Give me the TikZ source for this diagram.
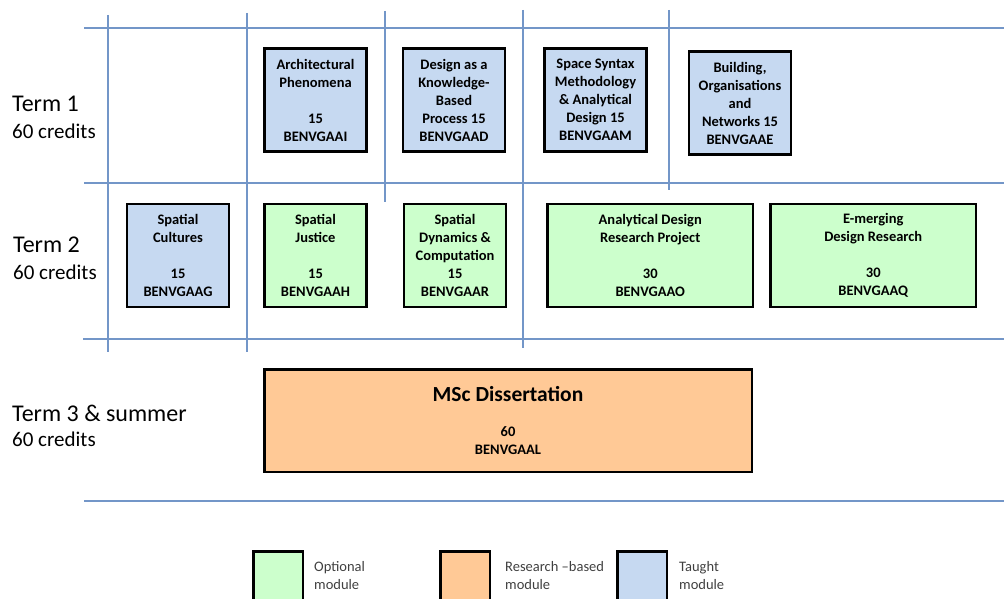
\documentclass[tikz,border=0pt]{standalone}
\usepackage{fontspec}
\setmainfont{Carlito}
\usetikzlibrary{positioning}
\definecolor{taughtblue}{HTML}{C6D9F1}
\definecolor{optgreen}{HTML}{CCFFCC}
\definecolor{resorange}{HTML}{FFC996}
\definecolor{gridblue}{HTML}{7396C8}
\tikzstyle{gridline} = [gridblue, line width=1.5pt]
\tikzstyle{module} = [draw=black, line width=2.5pt, align=center, inner sep=1pt, font=\bfseries\fontsize{14.5}{18}\selectfont]
\tikzstyle{taughtbox} = [module, fill=taughtblue, minimum width=102pt, minimum height=103pt]
\tikzstyle{optbox} = [module, fill=optgreen, minimum width=102pt, minimum height=103pt]
\tikzstyle{resbox} = [module, fill=resorange]
\tikzstyle{termtext} = [anchor=west, inner sep=0pt, font=\fontsize{24}{28}\selectfont]
\tikzstyle{credtext} = [anchor=west, inner sep=0pt, font=\fontsize{21}{25}\selectfont]
\tikzstyle{legtext} = [anchor=west, align=left, inner sep=0pt, font=\fontsize{14.5}{18}\selectfont, text=black!75]

\begin{document}
\begin{tikzpicture}[x=1pt, y=-1pt]
    \clip (0,0) rectangle (1004,599);

    % Grid
    \draw[gridline] (84,28) -- (1004,28);
    \draw[gridline] (84,183) -- (1004,183);
    \draw[gridline] (83,339) -- (1004,339);
    \draw[gridline] (84,501) -- (1004,501);
    \draw[gridline] (108,15) -- (108,352);
    \draw[gridline] (247,13) -- (247,352);
    \draw[gridline] (385,11) -- (385,202);
    \draw[gridline] (523,10) -- (523,348);
    \draw[gridline] (669,10) -- (669,190);

    % Terms
    \node[termtext] (term1) at (12,104) {Term 1};
    \node[credtext] (cred1) at (12,131) {60 credits};
    \node[termtext] (term2) at (13,245) {Term 2};
    \node[credtext] (cred2) at (13,272) {60 credits};
    \node[termtext] (term3) at (12,413) {Term 3 \& summer};
    \node[credtext] (cred3) at (12,439) {60 credits};

    % Term 1 modules
    \node[taughtbox] (arch) at (315.5,100) {Architectural\\Phenomena\\[18pt]15\\BENVGAAI};
    \node[taughtbox, right=34pt of arch] (design) {Design as a\\Knowledge-\\Based\\Process 15\\BENVGAAD};
    \node[taughtbox, right=37pt of design] (syntax) {Space Syntax\\Methodology\\\& Analytical\\Design 15\\BENVGAAM};
    \node[taughtbox, right=40pt of syntax, yshift=-3pt] (networks) {Building,\\Organisations\\and\\Networks 15\\BENVGAAE};

    % Term 2 modules
    \node[taughtbox] (cultures) at (178,255.5) {Spatial\\Cultures\\[18pt]15\\BENVGAAG};
    \node[optbox, right=33pt of cultures] (justice) {Spatial\\Justice\\[18pt]15\\BENVGAAH};
    \node[optbox, right=35pt of justice] (dynamics) {Spatial\\Dynamics \&\\Computation\\15\\BENVGAAR};
    \node[optbox, right=39pt of dynamics, minimum width=205.5pt] (project) {Analytical Design\\Research Project\\[18pt]30\\BENVGAAO};
    \node[optbox, right=15pt of project, minimum width=205.5pt] (emerging) {E-merging\\Design Research\\[18pt]30\\BENVGAAQ};

    % Term 3 module
    \node[resbox, minimum width=487.5pt, minimum height=102.5pt] (dissertation) at (508,420.5) {{\fontsize{21.5}{24}\selectfont MSc Dissertation}\\[17pt]60\\BENVGAAL};

    % Legend
    \node[module, fill=optgreen, minimum width=49.5pt, minimum height=70pt, anchor=north] (legopt) at (278,550) {};
    \node[module, fill=resorange, minimum width=49.5pt, minimum height=70pt, anchor=north] (legres) at (465,550) {};
    \node[module, fill=taughtblue, minimum width=49.5pt, minimum height=70pt, anchor=north] (legtaught) at (642,550) {};
    \node[legtext, right=10pt of legopt, yshift=11pt] (legopttext) {Optional\\module};
    \node[legtext, right=14pt of legres, yshift=11pt] (legrestext) {Research --based\\module};
    \node[legtext, right=11pt of legtaught, yshift=11pt] (legtaughttext) {Taught\\module};
\end{tikzpicture}
\end{document}
